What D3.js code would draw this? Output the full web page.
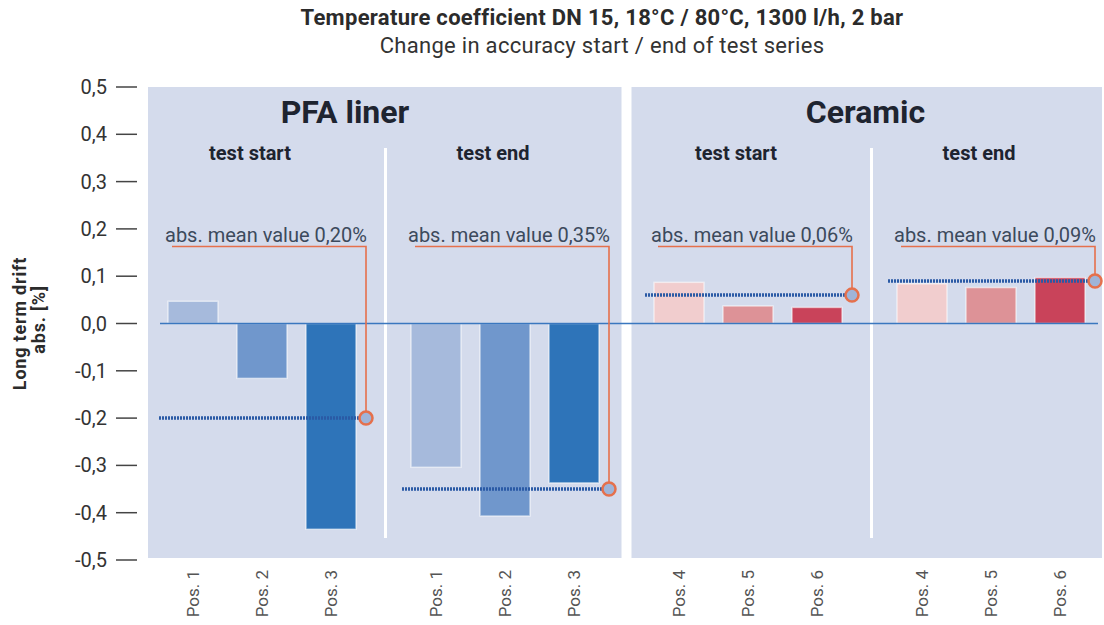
<!DOCTYPE html>
<html>
<head>
  <meta charset="utf-8">
  <title>temperature coefficient</title>
  <script src="https://d3js.org/d3.v7.min.js"></script>
  <style>
    body { margin: 0; background: #fff; font-family: Roboto, "Open Sans", sans-serif; }
    text { fill: #2b2b2b; }
    .tick-label { font-size: 20px; fill: #333; }
    .pos-label { font-size: 17px; fill: #555; }
    .mean-label { font-size: 20px; fill: #3c4a5c; }
  </style>
</head>
<body>
<div id="chart"></div>
<script>
// chart data
var groups = ["PFA start", "PFA end", "Ceramic start", "Ceramic end"];
var groupTitles = ["test start", "test end", "test start", "test end"];
var materials = ["PFA liner", "Ceramic"];
var pfaPositions = ["Pos. 1", "Pos. 2", "Pos. 3"];
var ceramicPositions = ["Pos. 4", "Pos. 5", "Pos. 6"];
var pfaStart = [0.047, -0.116, -0.435];
var pfaEnd = [-0.304, -0.407, -0.337];
var ceramicStart = [0.087, 0.037, 0.034];
var ceramicEnd = [0.084, 0.076, 0.097];
var meanValues = [-0.20, -0.35, 0.06, 0.09];
var meanLabels = ["abs. mean value 0,20%", "abs. mean value 0,35%", "abs. mean value 0,06%", "abs. mean value 0,09%"];
var yTicks = [0.5, 0.4, 0.3, 0.2, 0.1, 0.0, -0.1, -0.2, -0.3, -0.4, -0.5];

var blueColors = ["#a6badc", "#7097cc", "#2e74b9"];
var redColors = ["#f1cdce", "#dd9297", "#c9435a"];

var width = 1104, height = 625;

var svg = d3.select("#chart").append("svg")
    .attr("width", width)
    .attr("height", height);

// scales
var y = d3.scaleLinear().domain([-0.5, 0.5]).range([560, 87]);
var gx = d3.scaleBand().domain(groups).range([140.5, 1112.5]);
var px = d3.scalePoint().domain([0, 1, 2]).range([-69, 69]);
var barW = 50;
function center(g) { return gx(g) + gx.bandwidth() / 2; }

var rows = [];
[pfaStart, pfaEnd, ceramicStart, ceramicEnd].forEach(function(vals, gi) {
  vals.forEach(function(v, i) {
    var ceramic = gi >= 2;
    rows.push({
      group: groups[gi], idx: i, value: v,
      label: (ceramic ? ceramicPositions : pfaPositions)[i],
      color: (ceramic ? redColors : blueColors)[i]
    });
  });
});

// background panels
var mid = (center(groups[1]) + center(groups[2])) / 2;
var panels = [
  {x0: center(groups[0]) - 114, x1: mid - 5},
  {x0: mid + 5, x1: center(groups[3]) + 111}
];
svg.append("g").selectAll("rect").data(panels).enter().append("rect")
    .attr("x", function(d) { return d.x0; })
    .attr("y", y(0.5))
    .attr("width", function(d) { return d.x1 - d.x0; })
    .attr("height", y(-0.5) - y(0.5) - 2)
    .attr("fill", "#d4dbec");

// white separators between start / end
[[0, 1], [2, 3]].forEach(function(p) {
  var sx = (center(groups[p[0]]) + center(groups[p[1]])) / 2 + 2;
  svg.append("line")
      .attr("x1", sx).attr("x2", sx)
      .attr("y1", 148).attr("y2", 538)
      .attr("stroke", "#fff").attr("stroke-width", 3);
});

// titles
svg.append("text").attr("x", 602).attr("y", 25)
    .attr("text-anchor", "middle")
    .style("font-size", "22px").style("font-weight", "bold")
    .style("letter-spacing", "0.3px")
    .text("Temperature coefficient DN 15, 18°C / 80°C, 1300 l/h, 2 bar");
svg.append("text").attr("x", 602).attr("y", 53)
    .attr("text-anchor", "middle")
    .style("font-size", "22px").style("fill", "#333")
    .style("letter-spacing", "0.3px")
    .text("Change in accuracy start / end of test series");

// material headers
svg.append("text").attr("x", center(groups[0]) + 83).attr("y", 123)
    .attr("text-anchor", "middle")
    .style("font-size", "32px").style("font-weight", "bold").style("fill", "#1e2430")
    .text(materials[0]);
svg.append("text").attr("x", (center(groups[2]) + center(groups[3])) / 2 - 4).attr("y", 123)
    .attr("text-anchor", "middle")
    .style("font-size", "32px").style("font-weight", "bold").style("fill", "#1e2430")
    .text(materials[1]);

svg.append("g").selectAll("text").data(groups).enter().append("text")
    .attr("x", function(d) { return center(d) - 12; })
    .attr("y", 160)
    .attr("text-anchor", "middle")
    .style("font-size", "20px").style("font-weight", "bold").style("fill", "#1e2430")
    .text(function(d, i) { return groupTitles[i]; });

// y axis
var yAxis = svg.append("g");
yAxis.selectAll("line").data(yTicks).enter().append("line")
    .attr("x1", 116).attr("x2", 137)
    .attr("y1", function(d) { return y(d); })
    .attr("y2", function(d) { return y(d); })
    .attr("stroke", "#444").attr("stroke-width", 1.5);
yAxis.selectAll("text").data(yTicks).enter().append("text")
    .attr("class", "tick-label")
    .attr("x", 107)
    .attr("y", function(d) { return y(d); })
    .attr("dy", "0.35em")
    .attr("text-anchor", "end")
    .text(function(d) { return d3.format(".1f")(d).replace(".", ",").replace("−", "-"); });

svg.append("text")
    .attr("transform", "translate(26," + y(0) + ") rotate(-90)")
    .attr("text-anchor", "middle")
    .style("font-size", "18px").style("font-weight", "bold")
    .style("letter-spacing", "0.8px")
    .text("Long term drift");
svg.append("text")
    .attr("transform", "translate(45," + (y(0) - 4) + ") rotate(-90)")
    .attr("text-anchor", "middle")
    .style("font-size", "18px").style("font-weight", "bold")
    .style("letter-spacing", "0.8px")
    .text("abs. [%]");

// bars
svg.append("g").selectAll("rect").data(rows).enter().append("rect")
    .attr("x", function(d) { return center(d.group) + px(d.idx) - barW / 2; })
    .attr("y", function(d) { return y(Math.max(0, d.value)); })
    .attr("width", barW)
    .attr("height", function(d) { return Math.abs(y(d.value) - y(0)); })
    .attr("fill", function(d) { return d.color; })
    .attr("stroke", "rgba(255,255,255,0.55)")
    .attr("stroke-width", 1.5);

// zero line
svg.append("line")
    .attr("x1", 160).attr("x2", 1098)
    .attr("y1", y(0)).attr("y2", y(0))
    .attr("stroke", "#3a77bf").attr("stroke-width", 1.6);

// x labels
svg.append("g").selectAll("text").data(rows).enter().append("text")
    .attr("class", "pos-label")
    .attr("transform", function(d) {
      return "translate(" + (center(d.group) + px(d.idx)) + ",570) rotate(-90)";
    })
    .attr("dy", "0.35em")
    .attr("text-anchor", "end")
    .text(function(d) { return d.label; });

// mean value annotations
var orange = "#e5704c";
var ann = svg.append("g").selectAll("g").data(groups).enter().append("g");
ann.append("line")
    .attr("x1", function(d) { return center(d) - 103; })
    .attr("x2", function(d) { return center(d) + 98; })
    .attr("y1", function(d, i) { return y(meanValues[i]); })
    .attr("y2", function(d, i) { return y(meanValues[i]); })
    .attr("stroke", "#2a5aa5").attr("stroke-width", 3.5)
    .attr("stroke-dasharray", "2,1");
ann.append("polyline")
    .attr("points", function(d, i) {
      var cx = center(d) + 104;
      return [[center(d) - 90, 246.5], [cx, 246.5], [cx, y(meanValues[i]) - 6.5]].join(" ");
    })
    .attr("fill", "none")
    .attr("stroke", orange).attr("stroke-width", 1.6);
ann.append("circle")
    .attr("cx", function(d) { return center(d) + 104; })
    .attr("cy", function(d, i) { return y(meanValues[i]); })
    .attr("r", 6.5)
    .attr("fill", "#9fb4d8")
    .attr("stroke", orange).attr("stroke-width", 2.5);
ann.append("text")
    .attr("class", "mean-label")
    .attr("x", function(d) { return center(d) - 97; })
    .attr("y", 242)
    .text(function(d, i) { return meanLabels[i]; });
</script>
</body>
</html>
